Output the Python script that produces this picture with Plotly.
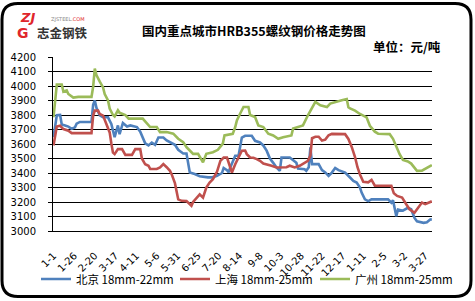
import plotly.graph_objects as go

# ---------------- data ----------------
tick_days = [0, 25, 50, 75, 100, 125, 150, 175, 200, 225, 250, 275, 300, 325, 350, 375, 400, 425, 450]
tick_labels = ["1-1", "1-26", "2-20", "3-17", "4-11", "5-6", "5-31", "6-25", "7-20", "8-14",
               "9-8", "10-3", "10-28", "11-22", "12-17", "1-11", "2-5", "3-2", "3-27"]

gz_days = [0, 4, 10, 12, 16, 18, 24, 30, 46, 48, 50, 52, 56, 60, 62, 66, 68, 72, 74, 78, 80, 83, 87, 91,
           108, 117, 125, 129, 137, 145, 151, 157, 161, 165, 169, 175, 181, 185, 193, 199, 205, 207, 214,
           217, 220, 222, 226, 230, 236, 238, 244, 248, 254, 260, 266, 272, 278, 288, 290, 296, 302, 308,
           313, 317, 323, 331, 335, 341, 349, 355, 357, 359, 365, 371, 379, 383, 389, 393, 407, 411, 415,
           419, 423, 429, 433, 440, 446, 450, 456, 458]
gz_vals = [3785, 4010, 4010, 3960, 3970, 3945, 3920, 3925, 3925, 3995, 4120, 4075, 4030, 3990, 3945, 3900,
           3845, 3800, 3790, 3832, 3815, 3810, 3800, 3775,
           3775, 3717, 3717, 3682, 3682, 3671, 3636, 3613, 3578, 3555, 3532, 3532, 3474, 3532, 3543, 3560,
           3603, 3659, 3670, 3670, 3717, 3763, 3810, 3855, 3855, 3800, 3786, 3728, 3717, 3671, 3659, 3636,
           3647, 3659, 3706, 3717, 3728, 3798, 3844, 3890, 3867, 3855, 3879, 3890, 3902, 3910, 3853, 3845,
           3830, 3807, 3784, 3726, 3685, 3671, 3668, 3636, 3578, 3530, 3490, 3480, 3465, 3415, 3416, 3428,
           3451, 3455]

bj_days = [0, 4, 8, 10, 14, 18, 22, 26, 28, 32, 46, 48, 50, 52, 56, 60, 66, 70, 74, 78, 80, 84, 89, 93,
           101, 105, 111, 115, 119, 123, 127, 133, 137, 143, 147, 151, 157, 161, 165, 171, 177, 187, 192,
           198, 204, 206, 210, 212, 214, 220, 224, 228, 232, 240, 244, 250, 254, 258, 262, 266, 270, 274,
           276, 286, 290, 294, 296, 300, 304, 306, 309, 311, 313, 321, 325, 329, 333, 337, 341, 345, 353,
           359, 363, 367, 371, 373, 377, 381, 385, 405, 409, 411, 415, 417, 423, 429, 433, 437, 440, 448,
           452, 456, 458]
bj_vals = [3647, 3798, 3800, 3735, 3728, 3720, 3705, 3715, 3740, 3752, 3752, 3870, 3900, 3850, 3798, 3784,
           3784, 3738, 3647, 3728, 3668, 3745, 3720, 3728,
           3717, 3685, 3605, 3590, 3610, 3595, 3645, 3645, 3625, 3610, 3595, 3560, 3535, 3535, 3404, 3393,
           3378, 3370, 3370, 3380, 3400, 3435, 3420, 3405, 3438, 3519, 3519, 3645, 3657, 3657, 3622, 3611,
           3590, 3554, 3500, 3470, 3438, 3415, 3507, 3507, 3486, 3470, 3430, 3430, 3426, 3415, 3440, 3576,
           3461, 3461, 3420, 3404, 3380, 3403, 3435, 3420, 3403, 3369, 3346, 3334, 3299, 3265, 3218, 3206,
           3218, 3218, 3195, 3212, 3102, 3148, 3140, 3160, 3150, 3090, 3067, 3056, 3060, 3079, 3080]

sh_days = [0, 4, 8, 12, 18, 22, 28, 46, 48, 50, 54, 56, 60, 64, 66, 68, 70, 72, 74, 78, 83, 87, 95, 99,
           105, 107, 111, 115, 117, 125, 129, 133, 137, 141, 143, 147, 151, 155, 161, 165, 167, 169, 173,
           177, 181, 185, 189, 193, 198, 202, 206, 210, 214, 216, 220, 224, 228, 232, 234, 238, 242, 246,
           250, 254, 258, 264, 270, 282, 286, 292, 298, 304, 308, 311, 313, 317, 321, 325, 329, 333, 337,
           353, 357, 361, 365, 368, 371, 375, 381, 385, 389, 409, 412, 416, 422, 427, 431, 437, 442, 446,
           450, 456, 458]
sh_vals = [3590, 3720, 3726, 3703, 3692, 3675, 3675, 3675, 3796, 3830, 3830, 3807, 3796, 3738, 3700, 3680,
           3605, 3540, 3530, 3565, 3565, 3525, 3525, 3565,
           3565, 3500, 3460, 3450, 3428, 3428, 3438, 3461, 3440, 3415, 3392, 3330, 3218, 3208, 3206, 3188,
           3174, 3200, 3230, 3253, 3230, 3300, 3334, 3357, 3410, 3484, 3507, 3507, 3438, 3403, 3461, 3507,
           3554, 3555, 3530, 3507, 3505, 3496, 3484, 3465, 3461, 3450, 3438, 3440, 3450, 3438, 3450, 3473,
           3484, 3520, 3640, 3650, 3650, 3624, 3630, 3660, 3670, 3668, 3635, 3580, 3510, 3440, 3390, 3340,
           3336, 3352, 3312, 3312, 3260, 3242, 3231, 3185, 3150, 3126, 3168, 3196, 3185, 3200, 3205]

series_names = ["北京 18mm-22mm", "上海 18mm-25mm", "广州 18mm-25mm"]
series_colors = ["#4F81BD", "#C0504D", "#9BBB59"]

# ---------------- layout helpers (pixel -> paper) ----------------
W, H = 475, 301
PL, PR, PT, PB = 53, 432, 57, 231


def px_x(x):
    return (x - PL) / (PR - PL)


def px_y(y):
    return (PB - y) / (PB - PT)


cjk = "Noto Sans CJK SC"
legend_ids = ["legend", "legend2", "legend3"]
legend_left = [36, 175, 315]

fig = go.Figure()
for d, v, name, col, lg in [(bj_days, bj_vals, series_names[0], series_colors[0], legend_ids[0]),
                            (sh_days, sh_vals, series_names[1], series_colors[1], legend_ids[1]),
                            (gz_days, gz_vals, series_names[2], series_colors[2], legend_ids[2])]:
    fig.add_trace(go.Scatter(x=d, y=v, mode="lines", name=name, legend=lg,
                             line=dict(color=col, width=2.6), hoverinfo="skip"))

# rounded border via path
x0, x1, y0, y1, r = 2, 471, 3.5, 296.5, 16


def P(x, y):
    return f"{px_x(x):.5f},{px_y(y):.5f}"


path = (f"M {P(x0 + r, y0)} L {P(x1 - r, y0)} Q {P(x1, y0)} {P(x1, y0 + r)} "
        f"L {P(x1, y1 - r)} Q {P(x1, y1)} {P(x1 - r, y1)} "
        f"L {P(x0 + r, y1)} Q {P(x0, y1)} {P(x0, y1 - r)} "
        f"L {P(x0, y0 + r)} Q {P(x0, y0)} {P(x0 + r, y0)} Z")
fig.add_shape(type="path", xref="paper", yref="paper", path=path,
              line=dict(color="black", width=3), layer="above")

annos = [
    dict(text="<b>国内重点城市HRB355螺纹钢价格走势图</b>", x=px_x(253.5), y=px_y(30),
         font=dict(family=cjk, size=12.5, color="black"), xanchor="center", yanchor="middle"),
    dict(text="<b>单位：元/吨</b>", x=px_x(443), y=px_y(47),
         font=dict(family=cjk, size=12.5, color="black"), xanchor="right", yanchor="middle"),
    dict(text="<b><i>ZJ</i></b>", x=px_x(27), y=px_y(17),
         font=dict(family="DejaVu Sans", size=13, color="#E0262B"), xanchor="center", yanchor="middle"),
    dict(text="<b>G</b>", x=px_x(23), y=px_y(33),
         font=dict(family="DejaVu Sans", size=14, color="#E0262B"), xanchor="center", yanchor="middle"),
    dict(text="ZJSTEEL<span style='color:#E0262B'>.COM</span>", x=px_x(68), y=px_y(19),
         font=dict(family="DejaVu Sans", size=5, color="#888888"), xanchor="center", yanchor="middle"),
    dict(text="<b>志金钢铁</b>", x=px_x(62), y=px_y(33),
         font=dict(family=cjk, size=12.5, color="#333333"), xanchor="center", yanchor="middle"),
]
for a in annos:
    a.update(xref="paper", yref="paper", showarrow=False)
    fig.add_annotation(**a)

legend_cfgs = {}
for lg, lx in zip(legend_ids, legend_left):
    legend_cfgs[lg] = dict(orientation="h", xref="container", yref="container",
                           x=lx / W, xanchor="left", y=1 - 279 / H, yanchor="middle",
                           font=dict(family=cjk, size=11.5, color="black"),
                           bgcolor="rgba(0,0,0,0)", itemwidth=30)

fig.update_layout(
    width=W, height=H,
    margin=dict(l=PL, r=W - PR, t=PT, b=H - PB, autoexpand=False),
    paper_bgcolor="white", plot_bgcolor="white",
    showlegend=True,
    font=dict(family="DejaVu Sans", size=10, color="black"),
    **legend_cfgs,
)
fig.update_xaxes(range=[-0.6, 458.2], tickmode="array", tickvals=tick_days, ticktext=tick_labels,
                 tickangle=-45, showgrid=False, showline=True, linecolor="black", linewidth=1,
                 ticks="", zeroline=False, automargin=False, ticklabelstandoff=14,
                 tickfont=dict(family="DejaVu Sans", size=10, color="black"))
fig.update_yaxes(range=[3000, 4200], tickmode="linear", tick0=3000, dtick=100,
                 showgrid=True, gridcolor="black", gridwidth=1, showline=True, linecolor="black",
                 linewidth=1, ticks="outside", ticklen=4, tickcolor="black", zeroline=False,
                 automargin=False, ticklabelstandoff=10,
                 tickfont=dict(family="DejaVu Sans", size=10, color="black"))

fig.write_html("out.html")
